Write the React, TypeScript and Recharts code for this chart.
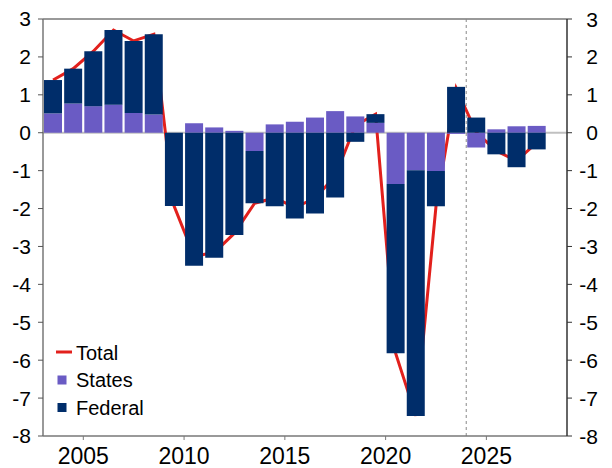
import React from 'react';
import { ComposedChart, Bar, Line, XAxis, YAxis, ReferenceLine } from 'recharts';

const years = [2003, 2004, 2005, 2006, 2007, 2008, 2009, 2010, 2011, 2012, 2013, 2014, 2015, 2016, 2017, 2018, 2019, 2020, 2021, 2022, 2023, 2024, 2025, 2026, 2027];
const states = [0.51, 0.77, 0.70, 0.74, 0.52, 0.48, 0.0, 0.25, 0.14, 0.05, -0.48, 0.22, 0.29, 0.40, 0.57, 0.43, 0.26, -1.35, -0.99, -1.01, -0.03, -0.39, 0.09, 0.17, 0.18];
const federal = [0.88, 0.92, 1.45, 1.97, 1.90, 2.12, -1.93, -3.51, -3.30, -2.70, -1.38, -1.94, -2.26, -2.13, -1.71, -0.24, 0.23, -4.47, -6.48, -0.93, 1.21, 0.40, -0.57, -0.91, -0.44];
const total = [1.39, 1.69, 2.15, 2.71, 2.42, 2.60, -1.93, -3.26, -3.16, -2.65, -1.86, -1.72, -1.97, -1.73, -1.14, 0.19, 0.49, -5.82, -7.47, -1.94, 1.18, 0.01, -0.48, -0.74, -0.26];
const xTicks = [2005, 2010, 2015, 2020, 2025];
const yTicks = [-8, -7, -6, -5, -4, -3, -2, -1, 0, 1, 2, 3];
const forecastStart = 2024;

const data = years.map((y, i) => ({
  x: y + 0.5,
  States: states[i],
  Federal: federal[i],
  Total: total[i],
}));

const FONT = '"Liberation Sans", Arial, sans-serif';
const NAVY = '#002D6A';
const PURPLE = '#6A5BC4';
const RED = '#E2201C';
const MARGIN = { top: 19, right: 0, bottom: 0, left: 0 };

const RightTick = (props: any) => {
  const { x, y, payload } = props;
  return (
    <text x={x + 26} y={y} dy="0.36em" textAnchor="end" fontSize={21} fill="#000" fontFamily={FONT}>
      {payload.value}
    </text>
  );
};

const LegendBox = () => (
  <g fontFamily={FONT} fontSize={20} fill="#000">
    <line x1={56} x2={72} y1={352} y2={352} stroke={RED} strokeWidth={3} />
    <text x={76} y={360}>Total</text>
    <rect x={57.5} y={375.5} width={9} height={9} fill={PURPLE} />
    <text x={76} y={387}>States</text>
    <rect x={57.5} y={403} width={9} height={9} fill={NAVY} />
    <text x={76} y={415}>Federal</text>
  </g>
);

function Axes({ visible }: { visible: boolean }) {
  return null;
}

export default function App() {
  const xAxisCommon = {
    dataKey: 'x',
    type: 'number' as const,
    domain: [2003, 2029],
    ticks: xTicks,
    interval: 0 as const,
    height: 32,
    allowDataOverflow: true,
  };
  return (
    <div style={{ position: 'absolute', left: 0, top: 0, width: 612, height: 468, background: '#fff' }}>
      <div style={{ position: 'absolute', left: 0, top: 0 }}>
        <ComposedChart width={612} height={468} data={data} margin={MARGIN}>
          <XAxis
            {...xAxisCommon}
            tickSize={4}
            tickMargin={8}
            axisLine={{ stroke: '#777', strokeWidth: 1.5 }}
            tickLine={{ stroke: '#777' }}
            tick={{ fontSize: 23, fill: '#000', fontFamily: FONT }}
          />
          <YAxis
            yAxisId="l"
            domain={[-8, 3]}
            ticks={yTicks}
            interval={0}
            width={43}
            tickSize={5}
            tickMargin={7}
            axisLine={{ stroke: '#777', strokeWidth: 1.5 }}
            tickLine={{ stroke: '#555' }}
            tick={{ fontSize: 21, fill: '#000', fontFamily: FONT }}
          />
          <YAxis
            yAxisId="r"
            orientation="right"
            domain={[-8, 3]}
            ticks={yTicks}
            interval={0}
            width={45}
            tickSize={5}
            tickMargin={0}
            axisLine={{ stroke: '#333', strokeWidth: 1.5 }}
            tickLine={{ stroke: '#333' }}
            tick={<RightTick />}
          />
          <ReferenceLine yAxisId="l" y={3} stroke="#777" strokeWidth={1.5} />
          <ReferenceLine yAxisId="l" y={0} stroke="#c0c0c0" strokeWidth={2} />
          <ReferenceLine yAxisId="l" x={forecastStart} stroke="#888" strokeDasharray="3 3" strokeWidth={1} />
          <Line
            yAxisId="r"
            dataKey="Total"
            stroke="none"
            dot={false}
            legendType="none"
            isAnimationActive={false}
          />
          <Line
            yAxisId="l"
            dataKey="Total"
            stroke={RED}
            strokeWidth={3}
            dot={false}
            isAnimationActive={false}
          />
        </ComposedChart>
      </div>
      <div style={{ position: 'absolute', left: 0, top: 0 }}>
        <ComposedChart width={612} height={468} data={data} stackOffset="sign" margin={MARGIN}>
          <XAxis {...xAxisCommon} tick={false} tickLine={false} axisLine={false} />
          <YAxis yAxisId="l" domain={[-8, 3]} ticks={yTicks} width={43} tick={false} tickLine={false} axisLine={false} />
          <YAxis yAxisId="r" orientation="right" domain={[-8, 3]} ticks={yTicks} width={45} tick={false} tickLine={false} axisLine={false} />
          <Bar yAxisId="l" dataKey="States" stackId="a" fill={PURPLE} barSize={18} isAnimationActive={false} />
          <Bar yAxisId="l" dataKey="Federal" stackId="a" fill={NAVY} barSize={18} isAnimationActive={false} />
          <Line yAxisId="r" dataKey="Total" stroke="none" dot={false} legendType="none" isAnimationActive={false} />
        </ComposedChart>
      </div>
      <svg width={612} height={468} style={{ position: 'absolute', left: 0, top: 0, pointerEvents: 'none' }}>
        <LegendBox />
      </svg>
    </div>
  );
}
